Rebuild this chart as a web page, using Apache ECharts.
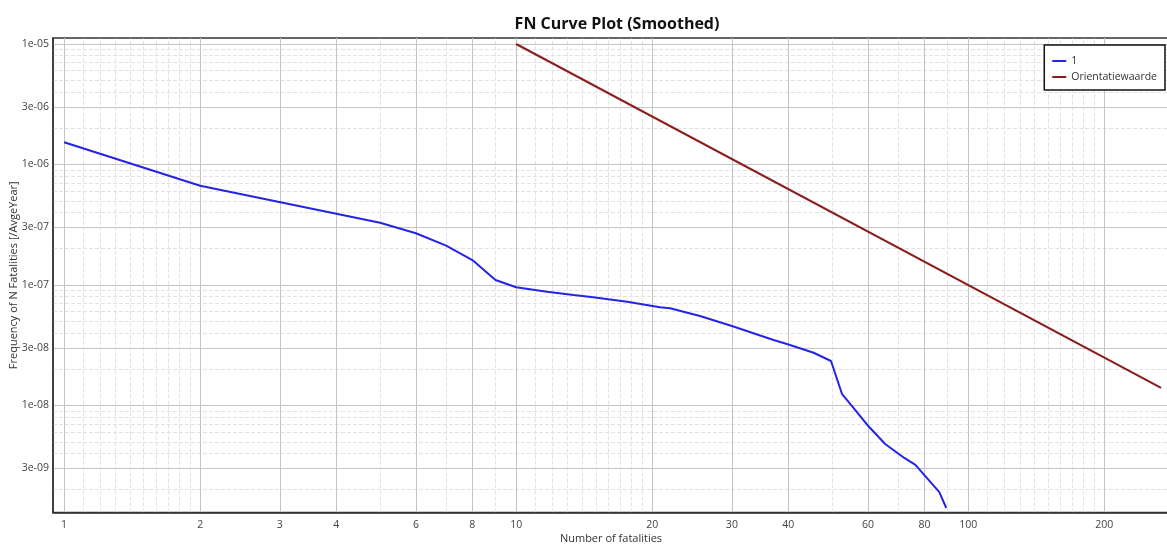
<!DOCTYPE html>
<html>
<head>
<meta charset="utf-8">
<script src="https://cdn.jsdelivr.net/npm/echarts@6/dist/echarts.min.js"></script>
<style>
html,body{margin:0;padding:0;background:#fff;}
#chart{width:1167px;height:545px;}
</style>
</head>
<body>
<div id="chart"></div>
<script>
// ---- data ----
const fatalities = [1, 2, 5, 6, 7, 8, 9, 10, 11.7, 13.4, 14.8, 17.6, 20.8, 21.9, 25.5, 30, 37.1, 39.7, 45.5, 49.7, 52.6, 56.2, 59.8, 65.5, 72.2, 76.4, 86.3, 89.4];
const frequency = [1.53e-6, 6.67e-7, 3.29e-7, 2.69e-7, 2.12e-7, 1.61e-7, 1.10e-7, 9.57e-8, 8.8e-8, 8.26e-8, 7.91e-8, 7.27e-8, 6.53e-8, 6.41e-8, 5.53e-8, 4.57e-8, 3.5e-8, 3.24e-8, 2.74e-8, 2.34e-8, 1.24e-8, 9.18e-9, 6.89e-9, 4.79e-9, 3.67e-9, 3.21e-9, 1.91e-9, 1.41e-9];
const orientN = [10, 267];
const orientF = [1e-5, 1.403e-8];

const xTickValues = [1, 2, 3, 4, 6, 8, 10, 20, 30, 40, 60, 80, 100, 200];
const xMinorValues = [1.1, 1.2, 1.3, 1.4, 1.5, 1.6, 1.7, 1.8, 1.9, 5, 7, 9, 11, 12, 13, 14, 15, 16, 17, 18, 19, 50, 70, 90, 110, 120, 130, 140, 150, 160, 170, 180, 190];
const yTickValues = [3e-9, 1e-8, 3e-8, 1e-7, 3e-7, 1e-6, 3e-6, 1e-5];
const yMinorValues = [2e-9, 4e-9, 5e-9, 6e-9, 7e-9, 8e-9, 9e-9, 2e-8, 4e-8, 5e-8, 6e-8, 7e-8, 8e-8, 9e-8, 2e-7, 4e-7, 5e-7, 6e-7, 7e-7, 8e-7, 9e-7, 2e-6, 4e-6, 5e-6, 6e-6, 7e-6, 8e-6, 9e-6];

const X_MIN = 0.945, X_MAX = 278;
const Y_MIN = 1.294e-9, Y_MAX = 1.1215e-5;

const FONT = "'Open Sans', 'Noto Sans', sans-serif";

function fmtExp(v) {
  const e = Math.floor(Math.log10(v) + 1e-9);
  const m = Math.round(v / Math.pow(10, e));
  const sign = e < 0 ? '-' : '+';
  return m + 'e' + sign + String(Math.abs(e)).padStart(2, '0');
}

const majorStyle = {color: '#c4c4c4', type: 'solid', width: 1};
const minorStyle = {color: '#e2e2e2', type: [4, 2], width: 1};
const gridLines = [];
xMinorValues.forEach(v => gridLines.push([{coord: [v, Y_MIN], lineStyle: minorStyle}, {coord: [v, Y_MAX]}]));
yMinorValues.forEach(v => gridLines.push([{coord: [X_MIN, v], lineStyle: minorStyle}, {coord: [X_MAX, v]}]));
xTickValues.forEach(v => gridLines.push([{coord: [v, Y_MIN], lineStyle: majorStyle}, {coord: [v, Y_MAX]}]));
yTickValues.forEach(v => gridLines.push([{coord: [X_MIN, v], lineStyle: majorStyle}, {coord: [X_MAX, v]}]));

const chart = echarts.init(document.getElementById('chart'), null, {renderer: 'canvas'});
chart.setOption({
  animation: false,
  backgroundColor: '#fff',
  title: {
    text: 'FN Curve Plot (Smoothed)',
    left: 612, top: 11, textAlign: 'center',
    textStyle: {fontFamily: FONT, fontWeight: 'bold', fontSize: 16, color: '#111'}
  },
  legend: {
    data: ['1', 'Orientatiewaarde'],
    orient: 'vertical',
    right: 2, top: 45,
    backgroundColor: '#fff',
    borderColor: '#111', borderWidth: 1.5, borderRadius: 0,
    padding: [10, 8, 7, 8],
    itemWidth: 14, itemHeight: 2, itemGap: 4,
    icon: 'rect',
    textStyle: {fontFamily: FONT, fontSize: 10.5, lineHeight: 12, color: '#333'}
  },
  grid: {
    left: 53, top: 38, right: -2, bottom: 32.5,
    outerBoundsMode: 'none', containLabel: false,
    show: true, borderColor: '#333', borderWidth: 1.5
  },
  xAxis: {
    type: 'log', logBase: 10, min: X_MIN, max: X_MAX,
    name: 'Number of fatalities', nameLocation: 'middle', nameGap: 21, nameMoveOverlap: false,
    nameTextStyle: {fontFamily: FONT, fontSize: 11, color: '#333'},
    axisLine: {show: true, lineStyle: {color: '#333', width: 1.5}},
    axisTick: {show: false},
    splitLine: {show: false},
    axisLabel: {
      customValues: xTickValues,
      fontFamily: FONT, fontSize: 10.5, color: '#444', margin: 7,
      formatter: v => String(Math.round(v))
    }
  },
  yAxis: {
    type: 'log', logBase: 10, min: Y_MIN, max: Y_MAX,
    name: 'Frequency of N Fatalities [/AvgeYear]', nameLocation: 'middle', nameGap: 33.5, nameMoveOverlap: false,
    nameTextStyle: {fontFamily: FONT, fontSize: 11, color: '#333'},
    axisLine: {show: true, lineStyle: {color: '#333', width: 1.5}},
    axisTick: {show: false},
    splitLine: {show: false},
    axisLabel: {
      customValues: yTickValues,
      fontFamily: FONT, fontSize: 10.5, color: '#444', margin: 4,
      formatter: v => fmtExp(v)
    }
  },
  series: [
    {
      name: 'gridlines', type: 'line', data: [], silent: true, z: 0,
      markLine: {silent: true, symbol: 'none', label: {show: false}, z: 0, animation: false, data: gridLines}
    },
    {
      name: '1', type: 'line', z: 3,
      data: fatalities.map((n, i) => [n, frequency[i]]),
      showSymbol: false, symbol: 'none',
      lineStyle: {color: '#2424e6', width: 2},
      itemStyle: {color: '#2424e6'}
    },
    {
      name: 'Orientatiewaarde', type: 'line', z: 3,
      data: orientN.map((n, i) => [n, orientF[i]]),
      showSymbol: false, symbol: 'none',
      lineStyle: {color: '#8b1c1c', width: 2},
      itemStyle: {color: '#8b1c1c'}
    }
  ]
});
</script>
</body>
</html>
